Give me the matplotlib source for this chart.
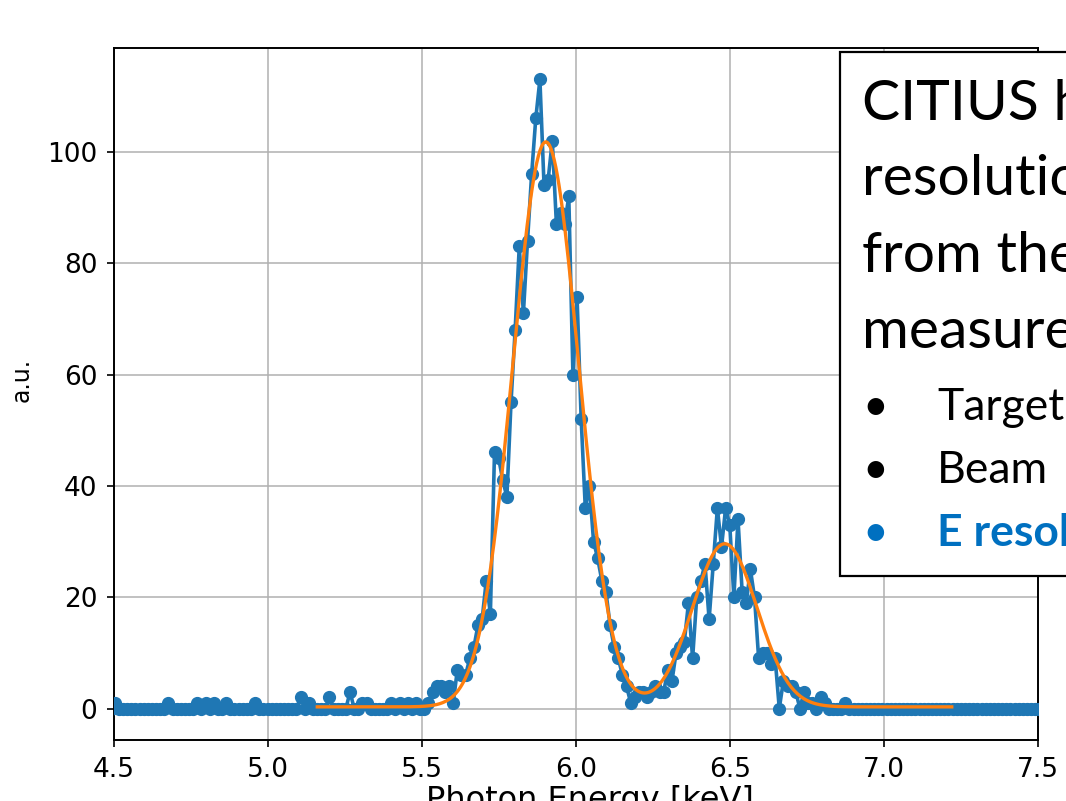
import numpy as np
import matplotlib
matplotlib.use("Agg")
import matplotlib.pyplot as plt
from matplotlib.patches import Rectangle

# measured spectrum (counts per energy bin)
e_start = 4.449
e_step = 0.0134
counts = [
    0, 0, 0, 0, 1, 0, 0, 0, 0, 0,
    0, 0, 0, 0, 0, 0, 0, 1, 0, 0,
    0, 0, 0, 0, 1, 0, 1, 0, 1, 0,
    0, 1, 0, 0, 0, 0, 0, 0, 1, 0,
    0, 0, 0, 0, 0, 0, 0, 0, 0, 2,
    0, 1, 0, 0, 0, 0, 2, 0, 0, 0,
    0, 3, 0, 0, 1, 1, 0, 0, 0, 0,
    0, 1, 0, 1, 0, 1, 0, 1, 0, 0,
    1, 3, 4, 4, 3, 4, 1, 7, 6, 6,
    9, 11, 15, 16, 23, 17, 46, 45, 41, 38,
    55, 68, 83, 71, 84, 96, 106, 113, 94, 95,
    102, 87, 89, 87, 92, 60, 74, 52, 36, 40,
    30, 27, 23, 21, 15, 11, 9, 6, 4, 1,
    2, 3, 3, 2, 3, 4, 3, 3, 7, 5,
    10, 11, 12, 19, 9, 20, 23, 26, 16, 26,
    36, 29, 36, 33, 20, 34, 21, 19, 25, 20,
    9, 10, 10, 8, 9, 0, 5, 4, 4, 3,
    0, 3, 1, 1, 0, 2, 1, 0, 0, 0,
    0, 1, 0, 0, 0, 0, 0, 0, 0, 0,
    0, 0, 0, 0, 0, 0, 0, 0, 0, 0,
    0, 0, 0, 0, 0, 0, 0, 0, 0, 0,
    0, 0, 0, 0, 0, 0, 0, 0, 0, 0,
    0, 0, 0, 0, 0, 0, 0, 0, 0,
]
energy = e_start + e_step * np.arange(len(counts))

# double gaussian fit result (Mn K-alpha / K-beta)
fit_amp = [101.5, 29.3]
fit_mu = [5.902, 6.483]
fit_sigma = [0.107, 0.105]
fit_bg = 0.3
fit_range = (5.16, 7.22)

box_lines = ["CITIUS has", "resolution", "from the", "measurement"]
bullet_lines = ["Target", "Beam", "E resolution"]

fig = plt.figure(figsize=(10.66, 8.01), dpi=100)
ax = fig.add_axes([114 / 1066, 1 - 740 / 801, 924 / 1066, 692 / 801])

ax.plot(energy, counts, "o-", color="#1f77b4", lw=2.6, ms=8.5, zorder=3)

xf = np.linspace(fit_range[0], fit_range[1], 400)
yf = fit_bg + sum(a * np.exp(-(xf - m) ** 2 / (2 * s ** 2))
                  for a, m, s in zip(fit_amp, fit_mu, fit_sigma))
ax.plot(xf, yf, color="#ff7f0e", lw=2.4, zorder=4)

ax.set_xlim(4.5, 7.5)
ax.set_xticks([4.5, 5.0, 5.5, 6.0, 6.5, 7.0, 7.5])
ax.set_yticks([0, 20, 40, 60, 80, 100])
ax.grid(True, color="#b0b0b0", lw=1.1)
ax.tick_params(labelsize=19, length=5, width=1.2, pad=7)
for sp in ax.spines.values():
    sp.set_linewidth(1.4)
ax.set_xlabel("Photon Energy [keV]", fontsize=23)
ax.xaxis.label.set_va("top")
ax.xaxis.set_label_coords((590 - 114) / 924, -45 / 692)
ax.set_ylabel("a.u.", fontsize=17)
ax.yaxis.set_label_coords(-80 / 924, 0.52)

# overlaid slide text box (cut off on the right)
fig.add_artist(Rectangle((840 / 1066, 1 - 576 / 801), 0.3, 524 / 801,
                         transform=fig.transFigure, facecolor="white",
                         edgecolor="black", lw=1.6, zorder=10))
for line, yb in zip(box_lines, [120, 195, 272, 348]):
    fig.text(862 / 1066, 1 - yb / 801, line, family="Lato", fontsize=41,
             va="baseline", ha="left", zorder=11)
blue = "#0070c0"
for k, (line, yb) in enumerate(zip(bullet_lines, [420, 483, 546])):
    col = blue if k == 2 else "black"
    wt = "bold" if k == 2 else "normal"
    fig.text(862 / 1066, 1 - yb / 801, "\u2022", family="Lato", fontsize=32,
             va="baseline", ha="left", color=col, zorder=11)
    fig.text(937 / 1066, 1 - yb / 801, line, family="Lato", fontsize=32,
             va="baseline", ha="left", color=col, weight=wt, zorder=11)

fig.savefig("out.png", dpi=100)
